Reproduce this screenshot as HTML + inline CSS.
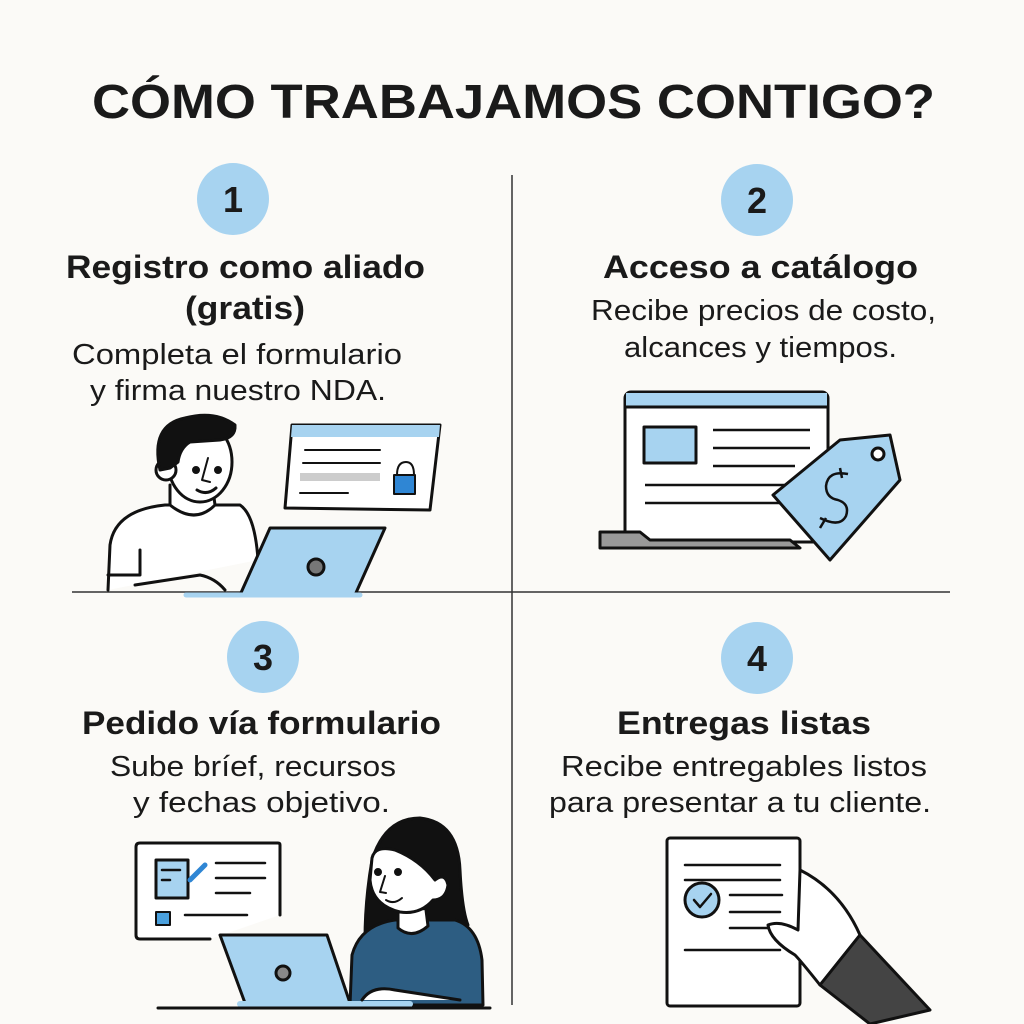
<!DOCTYPE html>
<html><head><meta charset="utf-8"><style>
html,body{margin:0;padding:0;background:#fbfaf7}
svg{display:block}
.t{font-family:"Liberation Sans",sans-serif;fill:#1a1a1a}
</style></head><body>
<svg width="1024" height="1024" viewBox="0 0 1024 1024" xmlns="http://www.w3.org/2000/svg">
<rect width="1024" height="1024" fill="#fbfaf7"/>
<text class="t" x="92" y="118" font-size="48" font-weight="bold" textLength="843" lengthAdjust="spacingAndGlyphs">CÓMO TRABAJAMOS CONTIGO?</text>
<line x1="512" y1="175" x2="512" y2="1005" stroke="#333" stroke-width="1.5"/>
<line x1="72" y1="592" x2="950" y2="592" stroke="#333" stroke-width="1.5"/>
<g fill="#a7d3f0">
<circle cx="233" cy="199" r="36"/><circle cx="757" cy="200" r="36"/>
<circle cx="263" cy="657" r="36"/><circle cx="757" cy="658" r="36"/>
</g>
<g class="t" font-size="36" font-weight="bold" text-anchor="middle">
<text x="233" y="212">1</text><text x="757" y="213">2</text>
<text x="263" y="670">3</text><text x="757" y="671">4</text>
</g>
<g class="t" font-size="32" font-weight="bold" lengthAdjust="spacingAndGlyphs">
<text x="66" y="278" textLength="359" lengthAdjust="spacingAndGlyphs">Registro como aliado</text>
<text x="185" y="319" textLength="120" lengthAdjust="spacingAndGlyphs">(gratis)</text>
<text x="603" y="278" textLength="315" lengthAdjust="spacingAndGlyphs">Acceso a catálogo</text>
<text x="82" y="734" textLength="359" lengthAdjust="spacingAndGlyphs">Pedido vía formulario</text>
<text x="617" y="734" textLength="254" lengthAdjust="spacingAndGlyphs">Entregas listas</text>
</g>
<g class="t" font-size="29">
<text x="72" y="364" textLength="330" lengthAdjust="spacingAndGlyphs">Completa el formulario</text>
<text x="90" y="400" textLength="296" lengthAdjust="spacingAndGlyphs">y firma nuestro NDA.</text>
<text x="591" y="320" textLength="345" lengthAdjust="spacingAndGlyphs">Recibe precios de costo,</text>
<text x="624" y="357" textLength="273" lengthAdjust="spacingAndGlyphs">alcances y tiempos.</text>
<text x="110" y="776" textLength="286" lengthAdjust="spacingAndGlyphs">Sube bríef, recursos</text>
<text x="133" y="812" textLength="257" lengthAdjust="spacingAndGlyphs">y fechas objetivo.</text>
<text x="561" y="776" textLength="366" lengthAdjust="spacingAndGlyphs">Recibe entregables listos</text>
<text x="549" y="812" textLength="382" lengthAdjust="spacingAndGlyphs">para presentar a tu cliente.</text>
</g>
<!-- Panel 1 -->
<g stroke="#111" stroke-width="3" stroke-linejoin="round" stroke-linecap="round">
<path d="M108 590 L110 545 Q115 510 165 505 L240 505 Q255 515 258 560" fill="#fff"/>
<path d="M170 485 L170 505 Q195 525 215 505 L213 490" fill="#fff"/>
<ellipse cx="200" cy="462" rx="32" ry="40" fill="#fff"/>
<circle cx="166" cy="470" r="10" fill="#fff"/>
<path d="M160 470 Q150 425 185 418 Q215 410 235 425 Q236 438 220 440 L190 442 Q180 448 178 462 L170 468 Z" fill="#111"/>
<circle cx="196" cy="470" r="2.5" fill="#111"/><circle cx="218" cy="470" r="2.5" fill="#111"/>
<path d="M208 458 L202 480 L210 482" fill="none" stroke-width="2"/>
<path d="M197 490 Q207 496 216 488" fill="none"/>
<path d="M108 575 L140 575 M140 550 L140 575 M135 585 L200 575 Q215 578 225 590" fill="none"/>
<path d="M292 425 L440 425 L430 510 L285 508 Z" fill="#fff"/>
<path d="M292 425 L440 425 L439 437 L291 437 Z" fill="#a7d3f0" stroke="none"/>
<path d="M305 450 L380 450 M303 463 L380 463 M300 493 L348 493" fill="none" stroke-width="2"/>
<rect x="300" y="473" width="80" height="8" fill="#ccc" stroke="none"/>
<path d="M397 475 Q397 462 406 462 Q414 462 414 475" fill="none" stroke-width="2"/>
<rect x="394" y="475" width="21" height="19" fill="#2f86d4" stroke-width="2"/>
<path d="M270 528 L385 528 L355 595 L240 595 Z" fill="#a7d3f0"/>
<circle cx="316" cy="567" r="8" fill="#777"/>
<path d="M186 595 L360 595" stroke="#a7d3f0" stroke-width="5"/>
</g>
<!-- Panel 2 -->
<g stroke="#111" stroke-width="3" stroke-linejoin="round">
<rect x="625" y="392" width="203" height="150" rx="6" fill="#fff"/>
<rect x="626" y="393" width="201" height="14" fill="#a7d3f0" stroke="none"/>
<line x1="625" y1="407" x2="828" y2="407"/>
<rect x="644" y="427" width="52" height="36" fill="#a7d3f0"/>
<path d="M713 430 L810 430 M713 448 L810 448 M713 466 L795 466 M645 485 L790 485 M645 503 L790 503" fill="none" stroke-width="2.5"/>
<path d="M600 532 L640 532 L650 540 L790 540 L800 548 L600 548 Z" fill="#999"/>
<path d="M773 495 L840 440 L890 435 L900 480 L830 560 Z" fill="#a7d3f0"/>
<circle cx="878" cy="454" r="6" fill="#fff"/>
<path d="M848 474 Q828 470 826 486 Q826 498 838 500 Q850 504 846 516 Q840 528 820 518 M840 468 L842 478 M826 518 L820 528" fill="none" stroke-width="2.5"/>
</g>
<!-- Panel 3 -->
<g stroke="#111" stroke-width="3" stroke-linejoin="round" stroke-linecap="round">
<path d="M280 915 L280 845 Q280 843 278 843 L140 843 Q136 843 136 847 L136 935 Q136 939 140 939 L210 939" fill="#fff"/>
<rect x="156" y="860" width="32" height="38" fill="#a7d3f0"/>
<path d="M162 870 L180 870 M162 880 L170 880 M216 863 L265 863 M216 878 L265 878 M216 893 L250 893 M185 915 L247 915" fill="none" stroke-width="2.5"/>
<path d="M190 880 L205 865" stroke="#2f86d4" stroke-width="5"/>
<rect x="156" y="912" width="14" height="13" fill="#4aa0dd" stroke-width="2"/>
<path d="M365 940 Q365 900 372 860 Q385 818 420 818 Q458 822 460 870 Q462 910 468 925 Q450 935 420 930 Q390 935 365 940Z" fill="#111"/>
<path d="M350 1005 L352 955 Q360 925 395 920 L455 920 Q478 927 482 960 L483 1005 Z" fill="#2d5d82"/>
<path d="M398 912 L398 928 Q412 940 428 926 L426 910" fill="#fff"/>
<path d="M372 858 Q375 845 395 850 Q420 860 435 880 Q445 872 448 885 Q446 900 433 900 Q420 915 400 912 Q372 905 370 880 Z" fill="#fff"/>
<circle cx="378" cy="872" r="2.5" fill="#111"/><circle cx="398" cy="872" r="2.5" fill="#111"/>
<path d="M385 876 L380 892 L386 893" fill="none" stroke-width="2"/>
<path d="M386 900 Q394 905 402 898" fill="none" stroke-width="2"/>
<path d="M220 935 L327 935 L350 1003 L245 1003 Z" fill="#a7d3f0"/>
<circle cx="283" cy="973" r="7" fill="#888"/>
<path d="M240 1004 L410 1004" fill="none" stroke="#a7d3f0" stroke-width="6"/>
<path d="M158 1008 L490 1008" fill="none"/>
<path d="M362 1000 Q372 985 395 990 L460 1000" fill="#fff"/>
</g>
<!-- Panel 4 -->
<g stroke="#111" stroke-width="3" stroke-linejoin="round" stroke-linecap="round">
<rect x="667" y="838" width="133" height="168" rx="3" fill="#fff"/>
<path d="M685 865 L780 865 M685 880 L780 880 M730 895 L782 895 M730 912 L780 912 M730 928 L782 928 M685 950 L780 950" fill="none" stroke-width="2.5"/>
<circle cx="702" cy="900" r="17" fill="#a7d3f0"/>
<path d="M694 900 L700 907 L711 894" fill="none" stroke-width="2.5"/>
<path d="M800 870 Q840 890 860 935 L820 985 Q800 960 795 955 Q770 940 768 925 Q780 920 798 930 Z" fill="#fff"/>
<path d="M860 935 L930 1010 L870 1024 L820 985 Z" fill="#444"/>
</g>
</svg>
</body></html>
